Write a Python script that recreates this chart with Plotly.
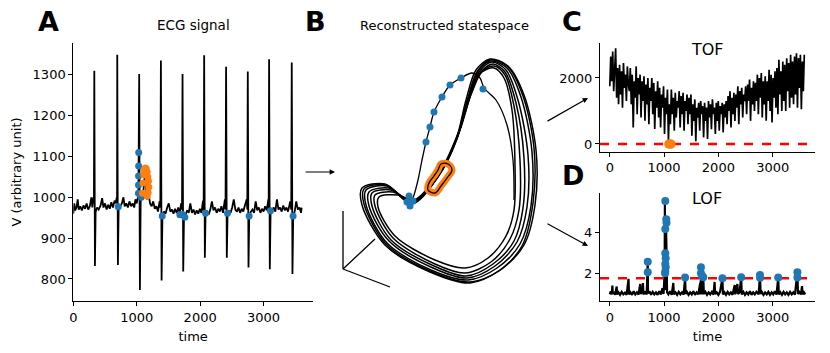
import plotly.graph_objects as go

# ---- ECG signal (panel A) ----
ecg_t = [0, 15, 30, 50, 70, 85, 110, 135, 160, 185, 210, 235, 260, 285, 300, 318, 325, 331, 341, 352,
         375, 400, 430, 455, 475, 500, 525, 550, 575, 600, 625, 650, 670, 685, 690, 693, 703, 715,
         740, 765, 790, 810, 835, 860, 885, 910, 935, 960, 980, 1000, 1018, 1026, 1039, 1050, 1062,
         1075, 1100, 1120, 1130, 1145, 1160, 1185, 1210, 1235, 1260, 1285, 1310, 1335, 1360, 1372,
         1381, 1392, 1405, 1430, 1455, 1480, 1505, 1530, 1555, 1580, 1605, 1630, 1655, 1680, 1700,
         1714, 1722, 1733, 1745, 1770, 1795, 1820, 1845, 1870, 1895, 1920, 1945, 1970, 1995, 2020,
         2045, 2055, 2063, 2074, 2085, 2110, 2135, 2160, 2185, 2210, 2235, 2260, 2285, 2310, 2335,
         2360, 2390, 2400, 2409, 2420, 2432, 2455, 2480, 2505, 2530, 2555, 2580, 2605, 2630, 2655,
         2680, 2705, 2735, 2743, 2751, 2762, 2774, 2800, 2825, 2850, 2875, 2900, 2925, 2950, 2975,
         3000, 3025, 3050, 3075, 3080, 3087, 3098, 3110, 3135, 3160, 3185, 3210, 3235, 3260, 3285,
         3310, 3335, 3360, 3385, 3420, 3436, 3444, 3455, 3467, 3490, 3515, 3540, 3565, 3590, 3600]
ecg_v = [960, 985, 968, 975, 995, 970, 978, 968, 980, 972, 985, 970, 978, 1000, 975, 1000, 985, 1310, 832, 965,
         975, 970, 980, 998, 975, 985, 970, 982, 972, 988, 975, 992, 985, 1000, 985, 1349, 834, 975,
         978, 985, 1000, 978, 985, 975, 990, 978, 985, 975, 995, 985, 1000, 995, 1302, 773, 990,
         1000, 1010, 1040, 1065, 1030, 995, 1010, 985, 978, 990, 972, 978, 965, 990, 975,
         1335, 796, 955, 965, 960, 975, 985, 965, 970, 960, 972, 962, 975, 960, 985,
         970, 1302, 818, 952, 958, 968, 962, 985, 962, 970, 958, 968, 960, 972, 962,
         992, 968, 1348, 852, 960, 965, 958, 970, 990, 968, 975, 962, 972, 965, 978,
         962, 995, 970, 1320, 852, 960, 968, 962, 975, 995, 970, 965, 975, 962, 972,
         965, 980, 995, 970, 1308, 828, 955, 965, 970, 962, 990, 968, 975, 962, 972,
         965, 978, 968, 995, 972, 1338, 824, 962, 968, 975, 965, 995, 970, 975, 965,
         980, 968, 975, 965, 990, 970, 1330, 812, 955, 965, 990, 970, 975, 962, 975]

ecg_out_t = [709, 1027, 1028, 1029, 1030, 1031, 1070, 1402, 1680, 1722, 1759, 2085, 2431, 2772, 3108, 3465]
ecg_out_v = [977, 1010, 1030, 1052, 1077, 1110, 1000, 954, 957, 958, 951, 961, 961, 954, 967, 954]

ecg_anom_t = [1090, 1100, 1110, 1120, 1135, 1150, 1165, 1175, 1185, 1190, 1180, 1165]
ecg_anom_v = [1010, 1035, 1055, 1068, 1072, 1070, 1062, 1050, 1040, 1025, 1012, 1003]

# ---- reconstructed statespace (panel B), projected coordinates ----
state_x = [412, 438, 456, 466, 476, 490, 508, 524, 536, 535, 524, 500, 470, 430, 385, 362, 362, 385, 412, None,
           412, 439, 457, 468, 478, 491, 507, 521, 532, 531, 520, 497, 468, 431, 387, 366, 366, 387, 412, None,
           413, 440, 458, 469, 479, 492, 506, 518, 528, 527, 517, 495, 467, 433, 389, 369, 369, 389, 413, None,
           413, 441, 459, 470, 480, 493, 505, 516, 524, 523, 514, 493, 466, 434, 391, 372, 372, 391, 413, None,
           414, 442, 460, 471, 481, 494, 505, 514, 520, 519, 510, 491, 465, 435, 393, 375, 375, 393, 414, None,
           414, 442, 460, 472, 482, 494, 504, 512, 515, 514, 506, 488, 465, 435, 395, 378, 379, 398, 414, None,
           412, 438, 457, 467, 477, 490, 508, 523, 534, 533, 522, 499, 469, 430, 386, 364, 364, 386, 412]
state_y = [203, 176, 140, 100, 70, 59, 66, 95, 150, 205, 245, 270, 283, 272, 245, 205, 188, 184, 203, None,
           203, 175, 138, 99, 71, 61, 68, 97, 152, 206, 244, 268, 280, 270, 243, 205, 190, 186, 203, None,
           202, 173, 135, 97, 72, 62, 70, 100, 155, 207, 242, 266, 278, 268, 241, 206, 192, 188, 202, None,
           202, 171, 132, 95, 73, 64, 72, 103, 158, 208, 241, 264, 276, 266, 240, 206, 193, 190, 202, None,
           201, 170, 130, 94, 72, 66, 75, 106, 160, 210, 239, 262, 273, 264, 238, 206, 195, 192, 201, None,
           200, 168, 128, 92, 72, 68, 78, 110, 165, 210, 236, 258, 268, 260, 236, 207, 197, 195, 200, None,
           204, 177, 139, 101, 72, 60, 67, 96, 148, 203, 246, 271, 282, 271, 244, 204, 189, 185, 204]

path_x = [410, 414, 418, 422, 426, 430, 434, 442, 450, 461, 472, 480, 484, 496, 507, 513, 514]
path_y = [205, 195, 180, 160, 142, 127, 112, 97, 85, 78, 73, 78, 88, 100, 125, 160, 200]

blob_x = [448, 452, 447, 441, 435, 428, 429, 434, 438, 441, 448]
blob_y = [164, 170, 178, 186, 193, 190, 183, 176, 170, 164, 164]

state_out_x = [426, 430, 434, 442, 450, 461, 483, 409, 410, 413, 407]
state_out_y = [142, 127, 112, 97, 85, 78, 89, 196, 206, 201, 202]

frame_x = [343, 343, 375, None, 343, 390]
frame_y = [211, 269, 239, None, 269, 287]

# ---- TOF (panel C) ----
tof_t = list(range(0, 3600, 18))
tof_v = [1750, 2650, 1900, 2800, 1600, 2500, 2900, 1400, 2300, 1200,
         2400, 1500, 2200, 1100, 2450, 1700, 2100, 1300, 2350, 1800,
         1600, 2300, 1200, 2100, 500, 1900, 1400, 2350, 900, 2000,
         1500, 2100, 800, 1900, 1300, 2050, 700, 1800, 1200, 2000,
         600, 1700, 1300, 2000, 900, 1850, 450, 1600, 1100, 1900,
         800, 1700, 500, 1500, 1100, 1750, 300, 1400, 900, 1650,
         100, 1200, 600, 1650, 900, 1400, 400, 1550, 800, 1300,
         1100, 1600, 500, 1450, 900, 1550, 400, 1300, 1000, 1500,
         600, 1400, 900, 1500, 250, 1200, 700, 1350, 80, 1100,
         800, 1250, 400, 1300, 900, 1150, 200, 1250, 700, 1100,
         150, 1300, 800, 1200, 450, 1350, 900, 1100, 300, 1250,
         700, 1300, 400, 1150, 900, 1250, 350, 1200, 800, 1300,
         600, 1450, 1000, 1600, 500, 1400, 900, 1550, 700, 1500,
         1100, 1750, 600, 1600, 1200, 1700, 800, 1500, 1300, 1750,
         900, 1800, 1300, 1950, 700, 1700, 1200, 1900, 1000, 1850,
         1300, 2100, 900, 2000, 1400, 2150, 800, 1900, 1200, 2050,
         700, 1900, 1300, 2250, 1000, 2100, 650, 2000, 1400, 2200,
         1100, 2300, 900, 2550, 1500, 2200, 1000, 2500, 1300, 2400,
         1000, 2600, 1600, 2450, 1100, 2700, 1400, 2500, 1200, 2650,
         1500, 2750, 1100, 2600, 1700, 2700, 1050, 2500, 1600, 2700]
tof_out_t = [1085, 1100, 1115, 1130]
tof_out_v = [0, 0, 0, 0]
tof_threshold = 0

# ---- LOF (panel D) ----
lof_t = [0, 18, 36, 48, 56, 80, 100, 127, 135, 160, 190, 220, 250, 280, 310, 345, 355, 380, 410, 440,
         470, 500, 530, 560, 570, 600, 610, 620, 650, 680, 699, 704, 730, 760, 790, 820, 850, 880, 910,
         940, 970, 990, 1010, 1015, 1020, 1025, 1030, 1035, 1040, 1045, 1055, 1080, 1110, 1140, 1170,
         1180, 1210, 1240, 1270, 1300, 1330, 1360, 1387, 1397, 1420, 1450, 1480, 1510, 1540, 1570,
         1600, 1630, 1665, 1672, 1680, 1690, 1700, 1710, 1722, 1732, 1760, 1790, 1820, 1850, 1880,
         1910, 1930, 1940, 1970, 2000, 2030, 2074, 2084, 2110, 2140, 2170, 2200, 2230, 2260, 2300,
         2310, 2350, 2360, 2390, 2420, 2430, 2460, 2490, 2520, 2550, 2580, 2610, 2640, 2670, 2700,
         2740, 2767, 2777, 2800, 2830, 2860, 2890, 2920, 2950, 2980, 3010, 3040, 3070, 3102, 3112,
         3140, 3170, 3200, 3230, 3260, 3290, 3320, 3350, 3380, 3410, 3455, 3465, 3490, 3520, 3540,
         3550, 3575, 3600]
lof_v = [1.0, 1.15, 1.0, 1.42, 1.02, 1.12, 0.98, 1.38, 1.0, 1.1, 0.98, 1.12, 1.0, 1.08, 0.98, 1.75, 1.0, 1.1, 0.98, 1.15,
         1.0, 1.1, 0.99, 1.5, 1.02, 1.2, 1.55, 1.0, 1.1, 1.0, 2.58, 1.05, 1.15, 0.98, 1.12, 1.0, 1.1, 0.98, 1.15,
         1.0, 1.3, 1.02, 2.0, 5.5, 1.2, 4.6, 1.3, 4.5, 1.5, 3.0, 1.1, 1.0, 1.15, 0.98, 1.55,
         1.0, 1.1, 0.98, 1.12, 1.0, 1.1, 0.99, 1.8, 1.02, 1.12, 0.98, 1.1, 1.0, 1.15, 0.98,
         1.1, 1.0, 1.55, 1.0, 2.3, 1.05, 1.9, 1.0, 1.85, 1.02, 1.12, 0.98, 1.1, 1.0, 1.12,
         0.99, 1.6, 1.02, 1.1, 0.98, 1.12, 1.78, 1.0, 1.1, 0.98, 1.12, 1.0, 1.1, 0.98, 1.45,
         1.0, 1.5, 1.02, 1.1, 1.83, 1.0, 1.12, 0.98, 1.1, 1.0, 1.15, 0.98, 1.1, 1.0, 1.12,
         1.0, 1.94, 1.02, 1.12, 0.98, 1.1, 1.0, 1.12, 0.98, 1.1, 1.0, 1.15, 0.99, 1.81, 1.0,
         1.1, 0.98, 1.12, 1.0, 1.1, 0.98, 1.12, 1.0, 1.1, 0.99, 2.07, 1.02, 1.12, 1.0, 1.4,
         1.0, 1.1, 1.0]
lof_out_t = [699, 699, 1022, 1040, 1044, 1022, 1022, 1030, 1022, 1030, 1022, 1018, 1387, 1679, 1679,
             1721, 1700, 2074, 2420, 2767, 2767, 3102, 3455, 3455]
lof_out_v = [2.58, 2.07, 5.51, 4.63, 4.46, 4.16, 2.99, 2.74, 2.47, 2.31, 2.10, 2.02, 1.81, 2.31, 2.02,
             1.83, 1.9, 1.78, 1.83, 1.94, 1.80, 1.81, 2.07, 1.81]
lof_threshold = 1.78

BLUE = '#1f77b4'
ORANGE = '#ff7f0e'
W, H = 830, 353

fig = go.Figure()

# panel A
fig.add_trace(go.Scatter(x=ecg_t, y=ecg_v, mode='lines', line=dict(color='black', width=1.8),
                         xaxis='x', yaxis='y', hoverinfo='skip'))
fig.add_trace(go.Scatter(x=ecg_out_t, y=ecg_out_v, mode='markers', marker=dict(color=BLUE, size=7),
                         xaxis='x', yaxis='y'))
fig.add_trace(go.Scatter(x=ecg_anom_t, y=ecg_anom_v, mode='markers', marker=dict(color=ORANGE, size=7),
                         xaxis='x', yaxis='y'))

# panel B
fig.add_trace(go.Scatter(x=state_x, y=state_y, mode='lines', line=dict(color='black', width=1.5, shape='spline', smoothing=0.9),
                         xaxis='x2', yaxis='y2', hoverinfo='skip'))
fig.add_trace(go.Scatter(x=path_x, y=path_y, mode='lines', line=dict(color='black', width=1.3, shape='spline', smoothing=0.9),
                         xaxis='x2', yaxis='y2', hoverinfo='skip'))
fig.add_trace(go.Scatter(x=blob_x, y=blob_y, mode='lines', line=dict(color=ORANGE, width=7, shape='spline'),
                         xaxis='x2', yaxis='y2', hoverinfo='skip'))
fig.add_trace(go.Scatter(x=blob_x, y=blob_y, mode='lines', line=dict(color='black', width=1.3, shape='spline'),
                         xaxis='x2', yaxis='y2', hoverinfo='skip'))
fig.add_trace(go.Scatter(x=state_out_x, y=state_out_y, mode='markers', marker=dict(color=BLUE, size=7),
                         xaxis='x2', yaxis='y2'))
fig.add_trace(go.Scatter(x=frame_x, y=frame_y, mode='lines', line=dict(color='black', width=1.3),
                         xaxis='x2', yaxis='y2', hoverinfo='skip'))

# panel C
fig.add_trace(go.Scatter(x=tof_t, y=tof_v, mode='lines', line=dict(color='black', width=1.7),
                         xaxis='x3', yaxis='y3', hoverinfo='skip'))
fig.add_trace(go.Scatter(x=[-180, 3779], y=[tof_threshold, tof_threshold], mode='lines',
                         line=dict(color='red', width=2.5, dash='dash'), xaxis='x3', yaxis='y3'))
fig.add_trace(go.Scatter(x=tof_out_t, y=tof_out_v, mode='markers', marker=dict(color=ORANGE, size=9),
                         xaxis='x3', yaxis='y3'))

# panel D
fig.add_trace(go.Scatter(x=lof_t, y=lof_v, mode='lines', line=dict(color='black', width=2.2),
                         xaxis='x4', yaxis='y4', hoverinfo='skip'))
fig.add_trace(go.Scatter(x=[-180, 3779], y=[lof_threshold, lof_threshold], mode='lines',
                         line=dict(color='red', width=2.5, dash='dash'), xaxis='x4', yaxis='y4'))
fig.add_trace(go.Scatter(x=lof_out_t, y=lof_out_v, mode='markers', marker=dict(color=BLUE, size=8),
                         xaxis='x4', yaxis='y4'))

axis_style = dict(showline=True, linecolor='black', linewidth=1, ticks='outside', ticklen=4,
                  tickcolor='black', showgrid=False, zeroline=False, automargin=False,
                  tickfont=dict(size=13, color='black'))
hidden = dict(visible=False, showgrid=False, zeroline=False, automargin=False)

fig.update_layout(
    width=W, height=H,
    margin=dict(l=0, r=0, t=0, b=0),
    showlegend=False,
    paper_bgcolor='white',
    plot_bgcolor='white',
    font=dict(family='DejaVu Sans', color='black', size=13),
    xaxis=dict(axis_style, domain=[73.3 / W, 313 / W], range=[0, 3779], tickvals=[0, 1000, 2000, 3000],
               title=dict(text='time', font=dict(size=13), standoff=8), anchor='y'),
    yaxis=dict(axis_style, domain=[1 - 301 / H, 1 - 43 / H], range=[746, 1378],
               tickvals=[800, 900, 1000, 1100, 1200, 1300],
               title=dict(text='V (arbitrary unit)', font=dict(size=13), standoff=8), anchor='x'),
    xaxis2=dict(hidden, domain=[320 / W, 540 / W], range=[320, 540], anchor='y2'),
    yaxis2=dict(hidden, domain=[1 - 300 / H, 1 - 45 / H], range=[300, 45], anchor='x2'),
    xaxis3=dict(axis_style, domain=[600 / W, 815 / W], range=[-180, 3779], tickvals=[0, 1000, 2000, 3000],
                anchor='y3'),
    yaxis3=dict(axis_style, domain=[1 - 151.7 / H, 1 - 43.3 / H], range=[-235, 3050], tickvals=[0, 2000],
                anchor='x3'),
    xaxis4=dict(axis_style, domain=[600 / W, 815 / W], range=[-180, 3779], tickvals=[0, 1000, 2000, 3000],
                title=dict(text='time', font=dict(size=13), standoff=8), anchor='y4'),
    yaxis4=dict(axis_style, domain=[1 - 301 / H, 1 - 193.3 / H], range=[0.68, 5.88], tickvals=[2, 4],
                anchor='x4'),
)

# titles and panel letters
labels = [
    ('ECG signal', 193, 25, 13.5, False),
    ('Reconstructed statespace', 444, 26, 13, False),
    ('TOF', 707, 49, 16, False),
    ('LOF', 707, 199, 16, False),
    ('A', 48, 22, 27, True),
    ('B', 315, 22, 27, True),
    ('C', 572, 22, 27, True),
    ('D', 573, 176, 27, True),
]
for text, px, py, size, bold in labels:
    fig.add_annotation(x=px / W, y=1 - py / H, xref='paper', yref='paper', showarrow=False,
                       text=f'<b>{text}</b>' if bold else text, font=dict(size=size, color='black'),
                       xanchor='center', yanchor='middle')

# arrows between panels (head, tail in pixels)
arrows = [((335, 172), (304, 172)), ((588, 98), (546, 122)), ((588, 246), (546, 223))]
for (hx, hy), (tx, ty) in arrows:
    fig.add_annotation(x=hx / W, y=1 - hy / H, xref='paper', yref='paper', text='',
                       showarrow=True, ax=tx - hx, ay=ty - hy, axref='pixel', ayref='pixel',
                       arrowhead=2, arrowsize=0.9, arrowwidth=1.2, arrowcolor='black', standoff=0)

fig.write_html("out.html", config={'displayModeBar': False},
               post_script="document.body.style.margin='0px';")
